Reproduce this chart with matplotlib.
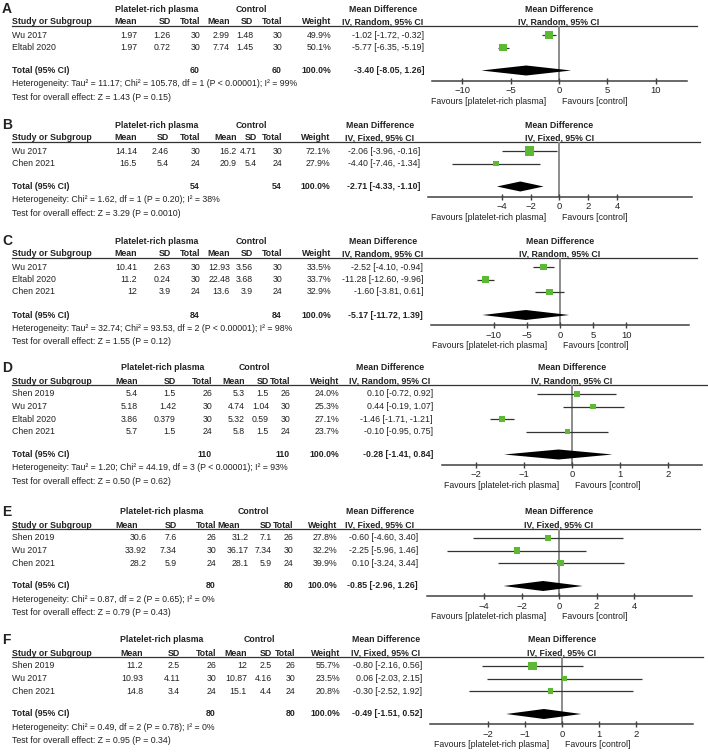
import numpy as np
import matplotlib.pyplot as plt

plt.rcParams['font.family'] = ['Liberation Sans', 'DejaVu Sans']

W, H = 708, 752
FS = 6.3
TC = '#222222'
GREEN = '#5db834'

# ---------------- data ----------------
A_study = ['Wu 2017', 'Eltabl 2020']
A_prp_mean = [1.97, 1.97]
A_prp_sd = [1.26, 0.72]
A_prp_n = [30, 30]
A_ctl_mean = [2.99, 7.74]
A_ctl_sd = [1.48, 1.45]
A_ctl_n = [30, 30]
A_weight = [49.9, 50.1]
A_md = [-1.02, -5.77]
A_lo = [-1.72, -6.35]
A_hi = [-0.32, -5.19]
A_total = [-3.40, -8.05, 1.26]
A_het = 'Heterogeneity: Tau² = 11.17; Chi² = 105.78, df = 1 (P < 0.00001); I² = 99%'
A_test = 'Test for overall effect: Z = 1.43 (P = 0.15)'

B_study = ['Wu 2017', 'Chen 2021']
B_prp_mean = [14.14, 16.5]
B_prp_sd = [2.46, 5.4]
B_prp_n = [30, 24]
B_ctl_mean = [16.2, 20.9]
B_ctl_sd = [4.71, 5.4]
B_ctl_n = [30, 24]
B_weight = [72.1, 27.9]
B_md = [-2.06, -4.40]
B_lo = [-3.96, -7.46]
B_hi = [-0.16, -1.34]
B_total = [-2.71, -4.33, -1.10]
B_het = 'Heterogeneity: Chi² = 1.62, df = 1 (P = 0.20); I² = 38%'
B_test = 'Test for overall effect: Z = 3.29 (P = 0.0010)'

C_study = ['Wu 2017', 'Eltabl 2020', 'Chen 2021']
C_prp_mean = [10.41, 11.2, 12]
C_prp_sd = [2.63, 0.24, 3.9]
C_prp_n = [30, 30, 24]
C_ctl_mean = [12.93, 22.48, 13.6]
C_ctl_sd = [3.56, 3.68, 3.9]
C_ctl_n = [30, 30, 24]
C_weight = [33.5, 33.7, 32.9]
C_md = [-2.52, -11.28, -1.60]
C_lo = [-4.10, -12.60, -3.81]
C_hi = [-0.94, -9.96, 0.61]
C_total = [-5.17, -11.72, 1.39]
C_het = 'Heterogeneity: Tau² = 32.74; Chi² = 93.53, df = 2 (P < 0.00001); I² = 98%'
C_test = 'Test for overall effect: Z = 1.55 (P = 0.12)'

D_study = ['Shen 2019', 'Wu 2017', 'Eltabl 2020', 'Chen 2021']
D_prp_mean = [5.4, 5.18, 3.86, 5.7]
D_prp_sd = [1.5, 1.42, 0.379, 1.5]
D_prp_n = [26, 30, 30, 24]
D_ctl_mean = [5.3, 4.74, 5.32, 5.8]
D_ctl_sd = [1.5, 1.04, 0.59, 1.5]
D_ctl_n = [26, 30, 30, 24]
D_weight = [24.0, 25.3, 27.1, 23.7]
D_md = [0.10, 0.44, -1.46, -0.10]
D_lo = [-0.72, -0.19, -1.71, -0.95]
D_hi = [0.92, 1.07, -1.21, 0.75]
D_total = [-0.28, -1.41, 0.84]
D_het = 'Heterogeneity: Tau² = 1.20; Chi² = 44.19, df = 3 (P < 0.00001); I² = 93%'
D_test = 'Test for overall effect: Z = 0.50 (P = 0.62)'

E_study = ['Shen 2019', 'Wu 2017', 'Chen 2021']
E_prp_mean = [30.6, 33.92, 28.2]
E_prp_sd = [7.6, 7.34, 5.9]
E_prp_n = [26, 30, 24]
E_ctl_mean = [31.2, 36.17, 28.1]
E_ctl_sd = [7.1, 7.34, 5.9]
E_ctl_n = [26, 30, 24]
E_weight = [27.8, 32.2, 39.9]
E_md = [-0.60, -2.25, 0.10]
E_lo = [-4.60, -5.96, -3.24]
E_hi = [3.40, 1.46, 3.44]
E_total = [-0.85, -2.96, 1.26]
E_het = 'Heterogeneity: Chi² = 0.87, df = 2 (P = 0.65); I² = 0%'
E_test = 'Test for overall effect: Z = 0.79 (P = 0.43)'

F_study = ['Shen 2019', 'Wu 2017', 'Chen 2021']
F_prp_mean = [11.2, 10.93, 14.8]
F_prp_sd = [2.5, 4.11, 3.4]
F_prp_n = [26, 30, 24]
F_ctl_mean = [12, 10.87, 15.1]
F_ctl_sd = [2.5, 4.16, 4.4]
F_ctl_n = [26, 30, 24]
F_weight = [55.7, 23.5, 20.8]
F_md = [-0.80, 0.06, -0.30]
F_lo = [-2.16, -2.03, -2.52]
F_hi = [0.56, 2.15, 1.92]
F_total = [-0.49, -1.51, 0.52]
F_het = 'Heterogeneity: Chi² = 0.49, df = 2 (P = 0.78); I² = 0%'
F_test = 'Test for overall effect: Z = 0.95 (P = 0.34)'

letters = ['A', 'B', 'C', 'D', 'E', 'F']
models = ['Random', 'Fixed', 'Random', 'Random', 'Fixed', 'Fixed']
xticks = [[-10, -5, 0, 5, 10], [-4, -2, 0, 2, 4], [-10, -5, 0, 5, 10],
          [-2, -1, 0, 1, 2], [-4, -2, 0, 2, 4], [-2, -1, 0, 1, 2]]

panels = [
    (A_study, A_prp_mean, A_prp_sd, A_prp_n, A_ctl_mean, A_ctl_sd, A_ctl_n, A_weight, A_md, A_lo, A_hi, A_total, A_het, A_test),
    (B_study, B_prp_mean, B_prp_sd, B_prp_n, B_ctl_mean, B_ctl_sd, B_ctl_n, B_weight, B_md, B_lo, B_hi, B_total, B_het, B_test),
    (C_study, C_prp_mean, C_prp_sd, C_prp_n, C_ctl_mean, C_ctl_sd, C_ctl_n, C_weight, C_md, C_lo, C_hi, C_total, C_het, C_test),
    (D_study, D_prp_mean, D_prp_sd, D_prp_n, D_ctl_mean, D_ctl_sd, D_ctl_n, D_weight, D_md, D_lo, D_hi, D_total, D_het, D_test),
    (E_study, E_prp_mean, E_prp_sd, E_prp_n, E_ctl_mean, E_ctl_sd, E_ctl_n, E_weight, E_md, E_lo, E_hi, E_total, E_het, E_test),
    (F_study, F_prp_mean, F_prp_sd, F_prp_n, F_ctl_mean, F_ctl_sd, F_ctl_n, F_weight, F_md, F_lo, F_hi, F_total, F_het, F_test),
]

# ---------------- layout (pixels) ----------------
tops = [22, 138, 254, 381, 525, 653]
forest_lr = [(432, 687), (428, 692), (431, 689), (442, 702), (427, 692), (430, 693)]
xlims = [(-13.16, 13.26), (-9.1, 9.17), (-19.5, 19.5), (-2.7, 2.7), (-7.04, 7.09), (-3.57, 3.54)]
# right edges: mean, sd, total, mean, sd, total, weight, md
cols = [[137, 171, 200, 230, 253, 282, 331, 424],
        [137, 169, 200, 237, 257, 282, 330, 420],
        [137, 171, 200, 230, 253, 282, 331, 423],
        [138, 176, 212, 245, 269, 290, 339, 433],
        [147, 177, 216, 249, 272, 293, 337, 418],
        [143, 180, 216, 247, 272, 295, 340, 422]]
head_shift = [0, 0, 0, 0, -9, 0]
grp_c = [(157, 251), (157, 251), (157, 251), (163, 254), (162, 253), (162, 259)]
mdh_c = [383, 380, 383, 390, 380, 386]
line_end = [697, 700, 697, 708, 700, 703]

fig = plt.figure(figsize=(W / 100, H / 100), dpi=100)
bg = fig.add_axes([0, 0, 1, 1])
bg.set_xlim(0, W)
bg.set_ylim(H, 0)
bg.axis('off')


def txt(x, y, s, ha='left', bold=False, size=FS):
    bg.text(x, y, s, ha=ha, va='center', fontsize=size, color=TC,
            fontweight='bold' if bold else 'normal')


for p, data in enumerate(panels):
    (study, pm, psd, pn, cm, csd, cn, wt, md, lo, hi, tot, het, test) = data
    top = tops[p]
    c = cols[p]
    n = len(study)
    rows_y = top + 13 + 12.5 * np.arange(n)
    tot_y = rows_y[-1] + 23
    axis_y = tot_y + 10
    fl, fr = forest_lr[p]
    x0, x1 = xlims[p]
    zero_px = fl + (0 - x0) / (x1 - x0) * (fr - fl)
    ci_lab = 'IV, %s, 95%% CI' % models[p]

    # headers
    txt(2, top - 13, letters[p], bold=True, size=10)
    txt(grp_c[p][0], top - 13, 'Platelet-rich plasma', ha='center', bold=True)
    txt(grp_c[p][1], top - 13, 'Control', ha='center', bold=True)
    txt(mdh_c[p], top - 13, 'Mean Difference', ha='center', bold=True)
    txt(zero_px, top - 13, 'Mean Difference', ha='center', bold=True)
    txt(12, top, 'Study or Subgroup', bold=True)
    hs = head_shift[p]
    for x, lab in zip([c[0] + hs, c[1], c[2], c[3] + hs, c[4], c[5], c[6]],
                      ['Mean', 'SD', 'Total', 'Mean', 'SD', 'Total', 'Weight']):
        txt(x, top, lab, ha='right', bold=True)
    txt(mdh_c[p], top, ci_lab, ha='center', bold=True)
    txt(zero_px, top, ci_lab, ha='center', bold=True)
    bg.plot([12, line_end[p]], [top + 4, top + 4], color='#333333', lw=0.9)

    # study rows
    for i in range(n):
        y = rows_y[i]
        txt(12, y, study[i])
        vals = ['%g' % pm[i], '%g' % psd[i], '%d' % pn[i], '%g' % cm[i],
                '%g' % csd[i], '%d' % cn[i], '%.1f%%' % wt[i],
                '%.2f [%.2f, %.2f]' % (md[i], lo[i], hi[i])]
        for x, v in zip(c, vals):
            txt(x, y, v, ha='right')

    # total row
    txt(12, tot_y, 'Total (95% CI)', bold=True)
    txt(c[2], tot_y, '%d' % sum(pn), ha='right', bold=True)
    txt(c[5], tot_y, '%d' % sum(cn), ha='right', bold=True)
    txt(c[6], tot_y, '100.0%', ha='right', bold=True)
    txt(c[7], tot_y, '%.2f [%.2f, %.2f]' % tuple(tot), ha='right', bold=True)
    txt(12, tot_y + 13.5, het)
    txt(12, tot_y + 26.5, test)

    # forest plot
    ax = fig.add_axes([fl / W, 1 - axis_y / H, (fr - fl) / W, (axis_y - top - 4) / H])
    ax.set_xlim(x0, x1)
    ax.set_ylim(axis_y, top + 4)
    ax.axvline(0, color='#8c8c8c', lw=1.4, zorder=1)
    ax.hlines(rows_y, lo, hi, color='#333333', lw=0.9, zorder=2)
    side = 1.1 * np.sqrt(np.array(wt)) * 72 / 100
    ax.scatter(md, rows_y, s=side ** 2, marker='s', color=GREEN, linewidths=0, zorder=3)
    ax.fill([tot[1], tot[0], tot[2], tot[0]], [tot_y, tot_y - 5, tot_y, tot_y + 5],
            color='black', lw=0, zorder=3)
    for s in ['top', 'left', 'right']:
        ax.spines[s].set_visible(False)
    ax.spines['bottom'].set_color('#404040')
    ax.spines['bottom'].set_linewidth(1.1)
    ax.set_yticks([])
    ax.set_xticks(xticks[p])
    ax.tick_params(axis='x', direction='inout', length=5, width=1, color='#404040',
                   labelsize=FS + 0.5, labelcolor=TC, pad=1.5)
    ax.patch.set_alpha(0)

    txt(zero_px - 13, axis_y + 20.5, 'Favours [platelet-rich plasma]', ha='right')
    txt(zero_px + 3, axis_y + 20.5, 'Favours [control]')

fig.savefig('out.png', dpi=100)
